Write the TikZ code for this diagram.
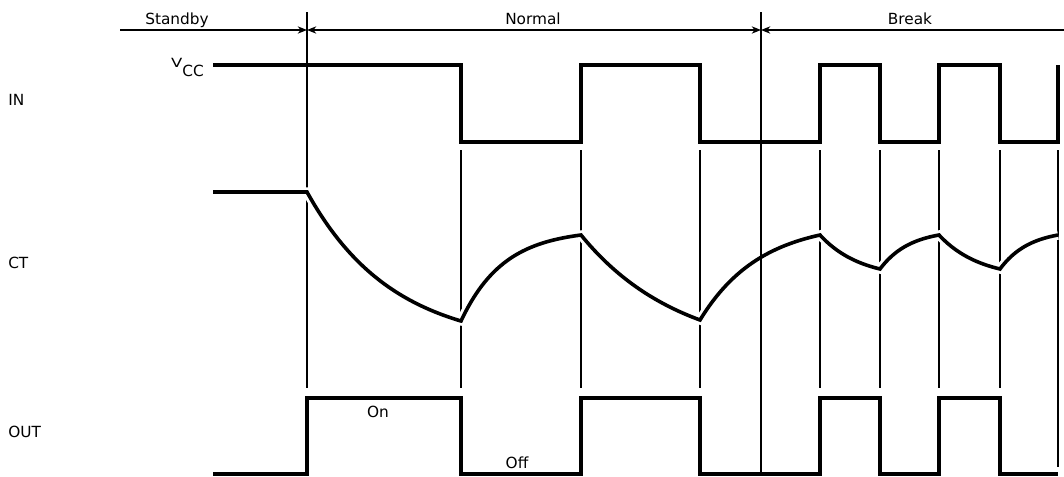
\documentclass[tikz,border=0pt]{standalone}
\usepackage{fontspec}
\setmainfont{DejaVu Sans}
\usetikzlibrary{arrows.meta}
\tikzstyle{trace} = [line width=2.7pt]
\tikzstyle{cttrace} = [trace, preaction={draw=white, line width=7pt}]
\tikzstyle{guide} = [line width=0.9pt]
\tikzstyle{dimline} = [line width=0.9pt, >={Stealth[length=7pt, width=5.5pt]}]
\tikzstyle{txt} = [inner sep=0pt, font=\fontsize{11.5}{13}\selectfont]
% exponential charge/discharge piece of the CT curve
\newcommand{\ctseg}[5]{-- plot[domain=0:1, samples=40, smooth] ({#1+(#3-#1)*\x}, {#2+(#4-#2)*(1-exp(-#5*\x))/(1-exp(-#5))})}

\begin{document}
\begin{tikzpicture}[x=0.75pt, y=-0.75pt]
\useasboundingbox (0,0) rectangle (1064,476);

% phases
\coordinate (sbstart) at (120,30);
\coordinate (nmstart) at (307,30);
\coordinate (bkstart) at (761,30);
\coordinate (bkend) at (1064,30);
\node (standby) [txt, anchor=base] at (177,24) {Standby};
\node (normal) [txt, anchor=base] at (533,24) {Normal};
\node (break) [txt, anchor=base] at (910,24) {Break};
\draw [dimline,->] (sbstart) -- (nmstart);
\draw [dimline,<->] (nmstart) -- (bkstart);
\draw [dimline,<-] (bkstart) -- (bkend);

% signal names
\node (in) [txt, anchor=west] at (8,100) {IN};
\node (ct) [txt, anchor=west] at (8,263) {CT};
\node (out) [txt, anchor=west] at (8,432) {OUT};
\node (vcc) [txt, anchor=base east] at (204,67) {\scalebox{1.3}[1]{\fontsize{9.5}{9}\selectfont V}\raisebox{-7pt}{CC}};

% guide lines
\draw [guide] (307,12) -- (307,388);
\foreach \gx in {461,581,700,820,880,939,1000}
  \draw [guide] (\gx,150) -- (\gx,388);
\draw [guide] (1058,150) -- (1058,467);

% IN
\draw [trace] (213,65) -- (461,65) -- (461,142) -- (581,142) -- (581,65) -- (700,65)
  -- (700,142) -- (820,142) -- (820,65) -- (880,65) -- (880,142) -- (939,142)
  -- (939,65) -- (1000,65) -- (1000,142) -- (1058,142) -- (1058,65);

% CT
\draw [cttrace] (213,192) -- (307,192)
  \ctseg{307}{192}{461}{321}{1.8}
  \ctseg{461}{321}{581}{235}{2.8}
  \ctseg{581}{235}{700}{320}{1.2}
  \ctseg{700}{320}{820}{235}{2}
  \ctseg{820}{235}{880}{269}{1.5}
  \ctseg{880}{269}{939}{235}{2}
  \ctseg{939}{235}{1000}{269}{1.5}
  \ctseg{1000}{269}{1058}{235}{2};

% OUT
\draw [trace] (213,474) -- (307,474) -- (307,398) -- (461,398) -- (461,474) -- (581,474)
  -- (581,398) -- (700,398) -- (700,474) -- (820,474) -- (820,398) -- (880,398)
  -- (880,474) -- (939,474) -- (939,398) -- (1000,398) -- (1000,474) -- (1058,474);
\node (on) [txt] at (378,412) {On};
\node (off) [txt] at (517,463) {Off};

\draw [guide] (761,12) -- (761,474);
\end{tikzpicture}
\end{document}
